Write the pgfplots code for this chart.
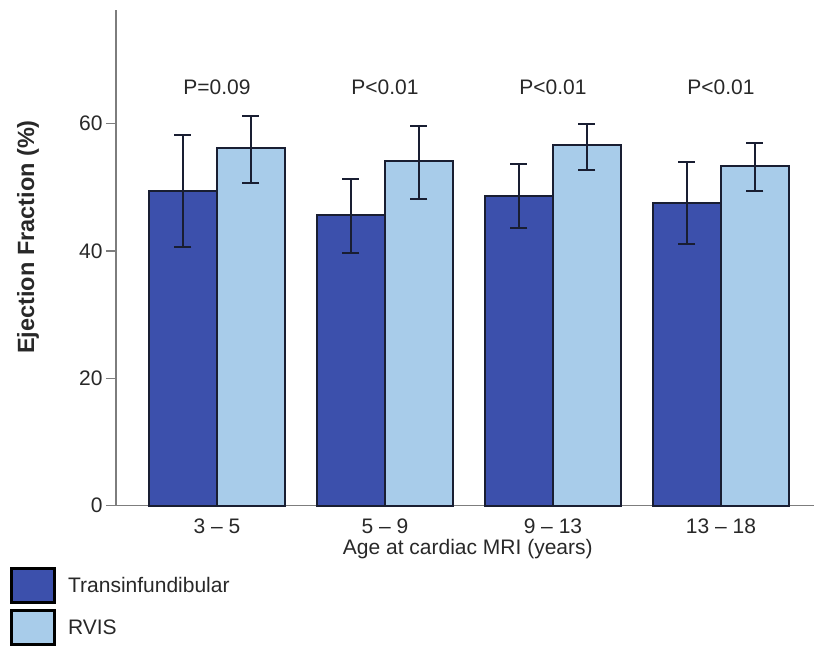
\documentclass[border=0pt]{standalone}
\usepackage{pgfplots}
\usepackage{pgfplotstable}
\pgfplotsset{compat=1.18}
\usepackage{fontspec}
\setmainfont{Liberation Sans}
\definecolor{darkbar}{RGB}{60,80,172}
\definecolor{lightbar}{RGB}{168,204,234}
\definecolor{edge}{RGB}{25,30,50}
\definecolor{axgray}{RGB}{125,125,125}
\definecolor{txt}{RGB}{40,40,40}

\pgfplotstableread{
x y ep em
0 49.4 8.8 8.8
1 45.7 5.5 6.0
2 48.6 5.1 5.0
3 47.5 6.5 6.5
}\transtab
\pgfplotstableread{
x y ep em
0 56.2 5.0 5.5
1 54.1 5.5 5.9
2 56.6 3.3 3.9
3 53.3 3.7 3.9
}\rvistab

\begin{document}
\begin{tikzpicture}
\useasboundingbox (0pt,0pt) rectangle (814pt,651pt);
\begin{axis}[
  at={(116pt,145.3pt)}, anchor=south west,
  scale only axis, width=698pt, height=495.7pt,
  xmin=-0.601, xmax=3.554, ymin=0, ymax=77.8,
  axis x line*=bottom, axis y line*=left,
  axis line style={axgray, line width=1.5pt},
  ybar, bar width=0.405,
  xtick={0,1,2,3},
  xticklabels={3 -- 5, 5 -- 9, 9 -- 13, 13 -- 18},
  ytick={0,20,40,60},
  tick align=outside,
  major tick length=10pt,
  x tick style={draw=none},
  y tick style={axgray, line width=1.5pt},
  tick label style={font=\fontsize{21}{24}\selectfont, text=txt},
  /pgf/number format/assume math mode=true,
  xlabel={Age at cardiac MRI (years)},
  xlabel style={at={(axis description cs:0.504,-0.088)}, anchor=center, font=\fontsize{21}{24}\selectfont, text=txt},
  ylabel={Ejection Fraction (\%)},
  ylabel style={at={(axis description cs:-0.126,0.542)}, anchor=center, font=\bfseries\fontsize{23.5}{27}\selectfont, text=txt},
  legend image code/.code={\draw[#1, draw=black, line width=3pt] (0pt,-17pt) rectangle (43pt,17pt);},
  legend style={at={(axis description cs:-0.152,-0.124)}, anchor=north west, draw=none, fill=none, inner sep=0pt, row sep=5pt, font=\fontsize{21}{24}\selectfont, text=txt,
    /tikz/every odd column/.append style={column sep=10pt}},
  legend cell align=left,
  clip=false,
]
\addplot[fill=darkbar, draw=edge, line width=2pt, bar shift=-0.2025,
  error bars/.cd, y dir=both, y explicit,
  error bar style={line width=2pt, color=edge},
  error mark options={rotate=90, mark size=8.5pt, line width=2pt, color=edge}]
  table[x=x, y=y, y error plus=ep, y error minus=em] {\transtab};
\addlegendentry{Transinfundibular}
\addplot[fill=lightbar, draw=edge, line width=2pt, bar shift=0.2025,
  error bars/.cd, y dir=both, y explicit,
  error bar style={line width=2pt, color=edge},
  error mark options={rotate=90, mark size=8.5pt, line width=2pt, color=edge}]
  table[x=x, y=y, y error plus=ep, y error minus=em] {\rvistab};
\addlegendentry{RVIS}
\node[font=\fontsize{21}{24}\selectfont, text=txt] at (axis cs:0,65.7) {P=0.09};
\node[font=\fontsize{21}{24}\selectfont, text=txt] at (axis cs:1,65.7) {P<0.01};
\node[font=\fontsize{21}{24}\selectfont, text=txt] at (axis cs:2,65.7) {P<0.01};
\node[font=\fontsize{21}{24}\selectfont, text=txt] at (axis cs:3,65.7) {P<0.01};
\end{axis}
\end{tikzpicture}
\end{document}
